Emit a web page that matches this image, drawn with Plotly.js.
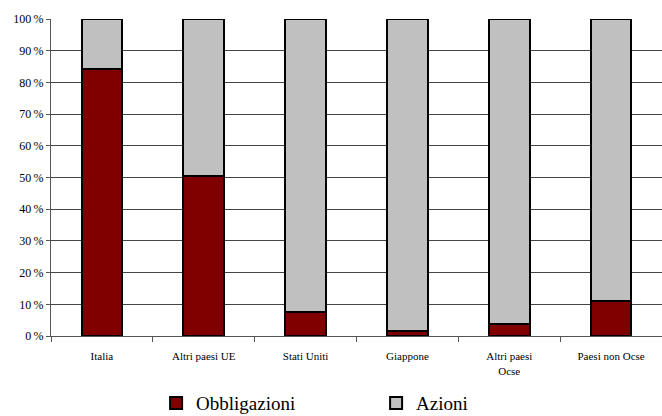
<!DOCTYPE html>
<html>
<head>
<meta charset="utf-8">
<script src="https://cdn.plot.ly/plotly-3.0.1.min.js"></script>
<style>html,body{margin:0;padding:0;background:#fff;}#chart{width:662px;height:416px;}</style>
</head>
<body>
<div id="chart"></div>
<script>
const categories = ["Italia", "Altri paesi UE", "Stati Uniti", "Giappone", "Altri paesi<br>Ocse", "Paesi non Ocse"];
const obbligazioni = [84.2, 50.5, 7.5, 1.6, 3.9, 11.0];
const azioni = [15.8, 49.5, 92.5, 98.4, 96.1, 89.0];
const yTickVals = [0, 10, 20, 30, 40, 50, 60, 70, 80, 90, 100];
const yTickText = ["0\u2009%", "10\u2009%", "20\u2009%", "30\u2009%", "40\u2009%", "50\u2009%", "60\u2009%", "70\u2009%", "80\u2009%", "90\u2009%", "100\u2009%"];

const serif = "Liberation Serif";
const traces = [
  {type: "bar", name: "Obbligazioni", x: categories, y: obbligazioni,
   marker: {color: "#800000", line: {color: "#000000", width: 2}}},
  {type: "bar", name: "Azioni", x: categories, y: azioni,
   marker: {color: "#c0c0c0", line: {color: "#000000", width: 2}}}
];
const layout = {
  width: 662, height: 416,
  margin: {l: 51, r: 0, t: 19, b: 80, autoexpand: false},
  barmode: "stack", bargap: 0.6,
  paper_bgcolor: "#ffffff", plot_bgcolor: "#ffffff",
  font: {family: serif, color: "#000000", size: 11},
  showlegend: true,
  legend: {orientation: "h", x: 0.172, xanchor: "left", y: -0.212, yanchor: "middle",
           font: {family: serif, size: 19, color: "#000"}, entrywidth: 175, entrywidthmode: "pixels",
           traceorder: "normal"},
  xaxis: {type: "category", showline: true, linecolor: "#555", linewidth: 1, automargin: false,
          ticks: "outside", tickson: "boundaries", ticklen: 5, tickcolor: "#555", tickangle: 0,
          ticklabelstandoff: 10,
          tickfont: {family: serif, size: 11}, showgrid: false},
  yaxis: {range: [0, 100], tickvals: yTickVals, ticktext: yTickText, showgrid: true, automargin: false,
          gridcolor: "#444", gridwidth: 1, showline: true, linecolor: "#555", linewidth: 1,
          ticks: "outside", ticklen: 4, tickcolor: "#555", zeroline: false,
          tickfont: {family: serif, size: 12}}
};
Plotly.newPlot("chart", traces, layout, {displayModeBar: false, staticPlot: true});
</script>
</body>
</html>
